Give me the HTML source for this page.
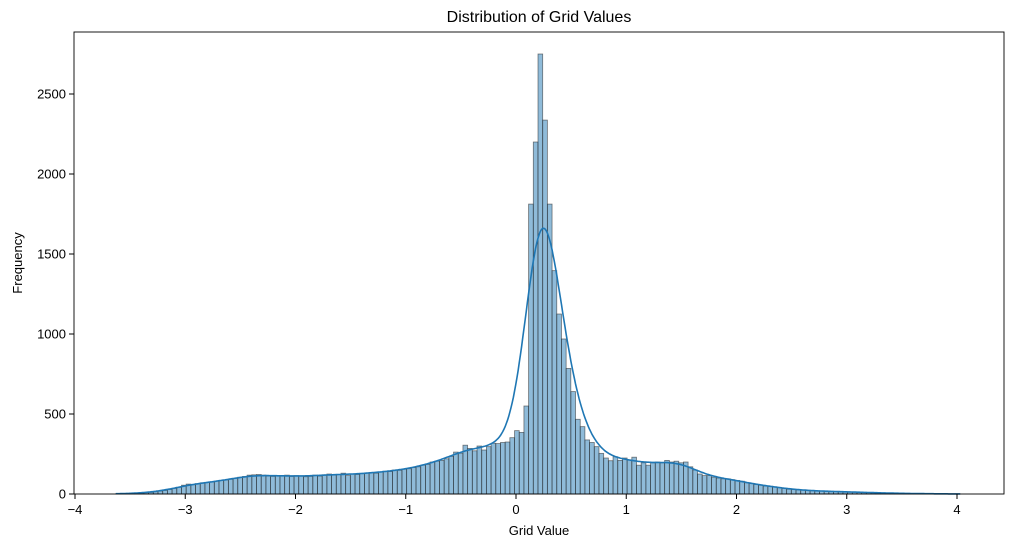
<!DOCTYPE html>
<html><head><meta charset="utf-8"><style>
body{margin:0;background:#fff;}
svg text{font-family:"Liberation Sans",sans-serif;fill:#000;}
</style></head><body>
<svg id="chart" width="1014" height="547" xmlns="http://www.w3.org/2000/svg">
<rect width="1014" height="547" fill="#fff"/>
<text x="539" y="22" font-size="16" text-anchor="middle">Distribution of Grid Values</text>
<g id="bars"></g>
<path id="kde" fill="none" stroke="#1f77b4" stroke-width="1.6"/>
<rect x="74" y="32" width="930" height="462" fill="none" stroke="#000" stroke-width="0.9"/>
<g id="xaxis"></g>
<g id="yaxis"></g>
<text x="539" y="535" font-size="13" text-anchor="middle">Grid Value</text>
<text transform="translate(22,263) rotate(-90)" font-size="13" text-anchor="middle">Frequency</text>
</svg>
<script>
const binStart = -3.63;
const binWidth = 0.04255;
const counts = [
2,2,3,4,5,6,8,10,14,18,
22,28,35,42,55,62,58,65,70,72,
75,80,85,88,92,98,105,110,118,120,
122,118,112,110,115,112,118,110,115,112,
108,110,118,112,120,125,118,122,130,115,
125,122,128,132,135,130,138,142,140,150,
148,155,158,165,170,180,185,200,205,210,
220,235,262,255,305,285,270,300,275,296,
317,315,322,325,352,396,385,550,1812,2200,
2750,2337,1812,1396,1125,969,785,640,467,421,
338,322,296,254,225,208,233,210,225,212,
230,180,195,180,195,200,195,210,200,205,
195,200,170,150,125,115,115,105,100,95,
95,90,85,80,70,65,60,55,50,48,
45,40,35,30,28,26,24,22,20,19,
18,17,16,15,15,14,13,12,11,10,
9,8,8,7,6,5,5,4,4,3,
3,2,2,2,1,1,1,1,1,1];
const xTicks = [-4,-3,-2,-1,0,1,2,3,4];
const yTicks = [0,500,1000,1500,2000,2500];
const xLabels = ["\u22124","\u22123","\u22122","\u22121","0","1","2","3","4"];
const yLabels = ["0","500","1000","1500","2000","2500"];

const NS="http://www.w3.org/2000/svg";
const X = v => 516 + v*110.25;
const Y = v => 494 - v*0.16;
const bars=document.getElementById('bars');
counts.forEach((c,i)=>{
  const x0=X(binStart+i*binWidth), x1=X(binStart+(i+1)*binWidth);
  const r=document.createElementNS(NS,'rect');
  r.setAttribute('x',x0);r.setAttribute('y',Y(c));
  r.setAttribute('width',x1-x0);r.setAttribute('height',494-Y(c));
  r.setAttribute('fill','rgba(31,119,180,0.5)');
  r.setAttribute('stroke','rgba(40,40,40,0.6)');r.setAttribute('stroke-width','0.8');
  
  
  bars.appendChild(r);
});
const sigma=3.0;
let d='';
const n=counts.length;
for(let k=0;k<=n*4;k++){
  const t=k/4;
  let s=0;
  for(let j=0;j<n;j++){const z=(t-(j+0.5))/sigma;s+=counts[j]*Math.exp(-0.5*z*z);}
  s/= (sigma*Math.sqrt(2*Math.PI));
  const px=X(binStart+t*binWidth), py=Y(s);
  d+=(k?'L':'M')+px.toFixed(1)+','+py.toFixed(1);
}
document.getElementById('kde').setAttribute('d',d);
const xa=document.getElementById('xaxis');
xTicks.forEach((v,i)=>{
  const l=document.createElementNS(NS,'line');
  l.setAttribute('x1',X(v));l.setAttribute('x2',X(v));l.setAttribute('y1',494);l.setAttribute('y2',499);
  l.setAttribute('stroke','#000');
  
  
  xa.appendChild(l);
  const t=document.createElementNS(NS,'text');
  t.setAttribute('x',X(v));t.setAttribute('y',514);t.setAttribute('font-size','13');t.setAttribute('text-anchor','middle');
  t.textContent=xLabels[i];
  
  
  xa.appendChild(t);
});
const ya=document.getElementById('yaxis');
yTicks.forEach((v,i)=>{
  const l=document.createElementNS(NS,'line');
  l.setAttribute('x1',69);l.setAttribute('x2',74);l.setAttribute('y1',Y(v));l.setAttribute('y2',Y(v));
  l.setAttribute('stroke','#000');
  
  
  ya.appendChild(l);
  const t=document.createElementNS(NS,'text');
  t.setAttribute('x',66);t.setAttribute('y',Y(v)+4.5);t.setAttribute('font-size','13');t.setAttribute('text-anchor','end');
  t.textContent=yLabels[i];
  
  
  ya.appendChild(t);
});
</script>
</body></html>
